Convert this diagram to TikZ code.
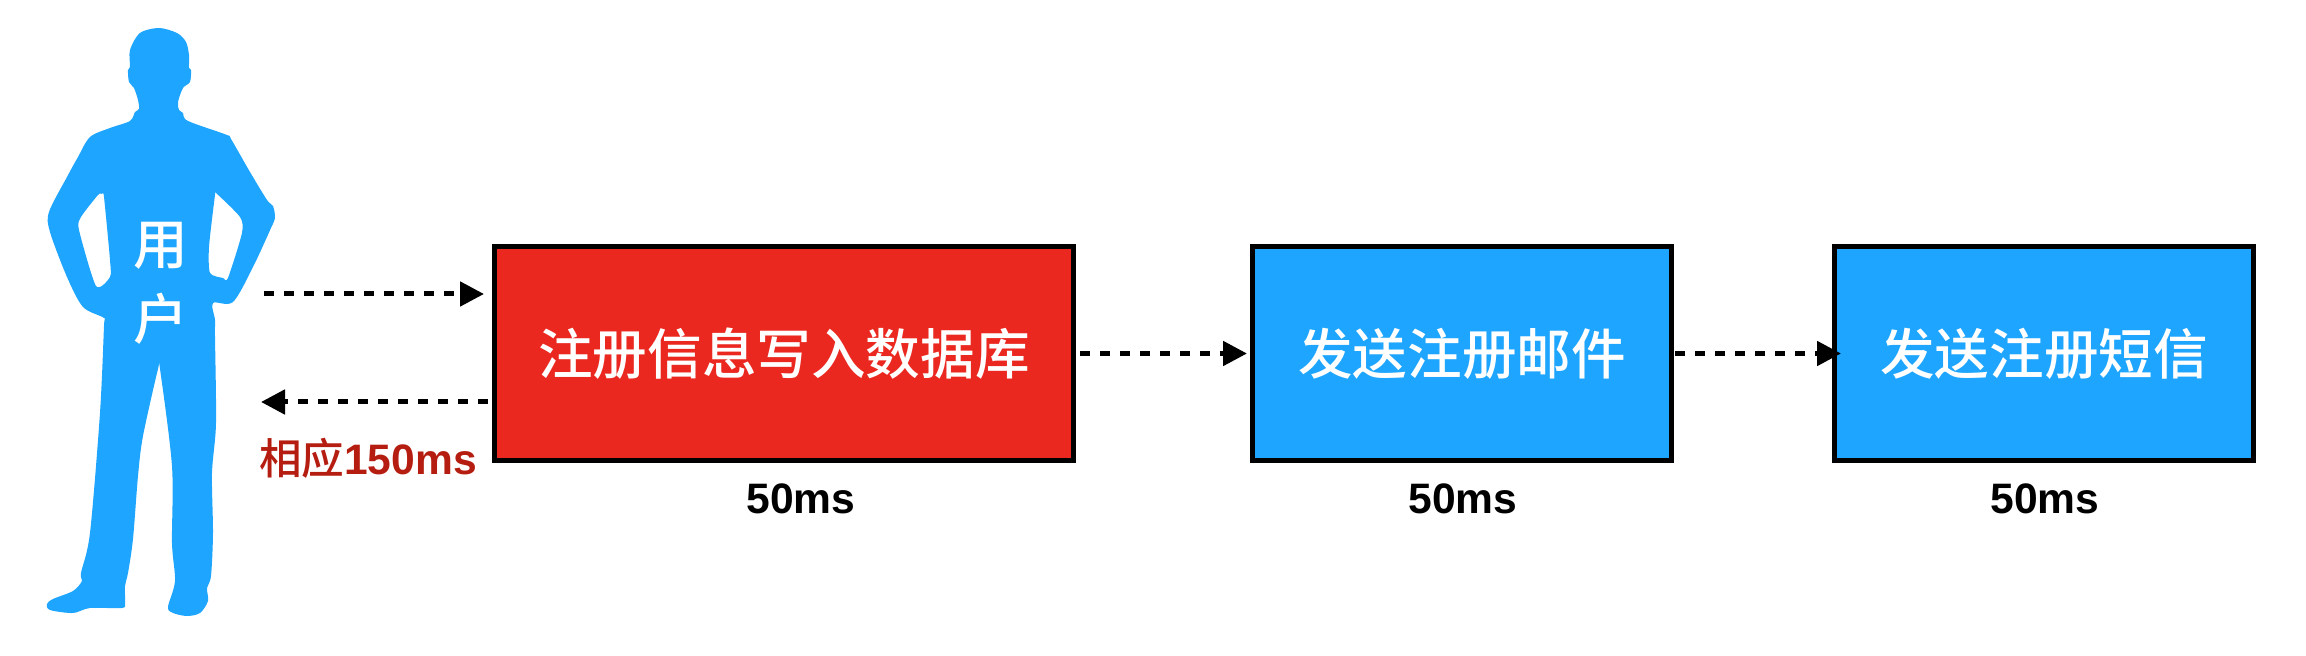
\documentclass[tikz,border=0pt]{standalone}
\usepackage{fontspec}
\setmainfont{Liberation Sans}
\newfontfamily\cjk{Noto Sans CJK SC Medium}
\usetikzlibrary{positioning, arrows.meta}
\definecolor{userblue}{HTML}{1DA5FF}
\definecolor{dbred}{HTML}{EB281F}
\definecolor{resred}{HTML}{B51D10}

\begin{document}
\begin{tikzpicture}[x=.5pt,y=-.5pt,stage/.style={draw=black, line width=2.5pt, minimum height=107pt, text=white, font=\fontsize{27.3}{37.5}\selectfont\cjk},cost/.style={font=\fontsize{21.3}{25}\selectfont\bfseries, inner sep=0pt},flow/.style={-{Triangle[length=12pt,width=12pt]}, line width=2.5pt, dash pattern=on 5pt off 5pt}]
  \useasboundingbox (0,0) rectangle (2306,656);

  \fill[userblue, even odd rule] plot[smooth cycle, tension=.5] coordinates {(159,28) (177,33) (186,42) (189,55) (189,68) (191,70) (190,82) (183,88) (178,102) (179,110) (183,113) (188,121) (227,135) (231,139) (250,172) (267,200) (273,206) (275,218) (271,228) (253,267) (233,302) (213,303) (215,320) (215,336) (216,423) (212,473) (213,533) (211,576) (207,588) (208,601) (200,613) (187,616) (173,613) (168,607) (175,581) (172,543) (172,466) (160,369) (158,369) (143,436) (138,476) (133,539) (128,573) (125,586) (125,603) (122,608) (90,608) (73,613) (50,610) (47,604) (53,599) (73,591) (82,581) (81,573) (90,533) (100,413) (104,326) (104,318) (83,307) (67,277) (50,232) (49,212) (67,177) (78,157) (90,137) (110,128) (130,121) (135,112) (139,109) (138,100) (134,88) (129,82) (128,70) (130,67) (130,50) (140,33)}
    plot[smooth cycle, tension=.4] coordinates {(102,194) (104,197) (110,260) (110,277) (96,286) (79,230) (81,217) (98,195)}
    plot[smooth cycle, tension=.4] coordinates {(216,193) (240,217) (242,233) (228,278) (223,278) (210,273) (209,247) (215,195)};
  \node[text=white, align=center, inner sep=0pt, font=\fontsize{27.3}{37.5}\selectfont\cjk] (user) at (161,283) {用\\户};

  \node[stage, fill=dbred, minimum width=289.5pt] (db) at (784,353.5) {注册信息写入数据库};
  \node[stage, fill=userblue, minimum width=209.5pt, right=87pt of db] (mail) {发送注册邮件};
  \node[stage, fill=userblue, minimum width=209.5pt, right=79pt of mail] (sms) {发送注册短信};

  \node[cost, below=10pt of db, xshift=8.5pt] (dbcost) {50ms};
  \node[cost, below=10pt of mail, xshift=.5pt] (mailcost) {50ms};
  \node[cost, below=10pt of sms, xshift=.5pt] (smscost) {50ms};
  \node[cost, text=resred] (resp) at (368,458) {{\cjk\mdseries 相应}150ms};

  \coordinate (reqstart) at (264,294);
  \coordinate (resend) at (261,402);
  \draw[flow, shorten >= 4pt] (reqstart) -- (reqstart -| db.west);
  \draw[flow, shorten <= 2pt] (resend -| db.west) -- (resend);
  \draw[flow, shorten <= 2pt, shorten >= 1.5pt] (db.east) -- (mail.west);
  \draw[flow, shorten <= .5pt, shorten >= -4.5pt] (mail.east) -- (sms.west);
 \end{tikzpicture}
\end{document}
